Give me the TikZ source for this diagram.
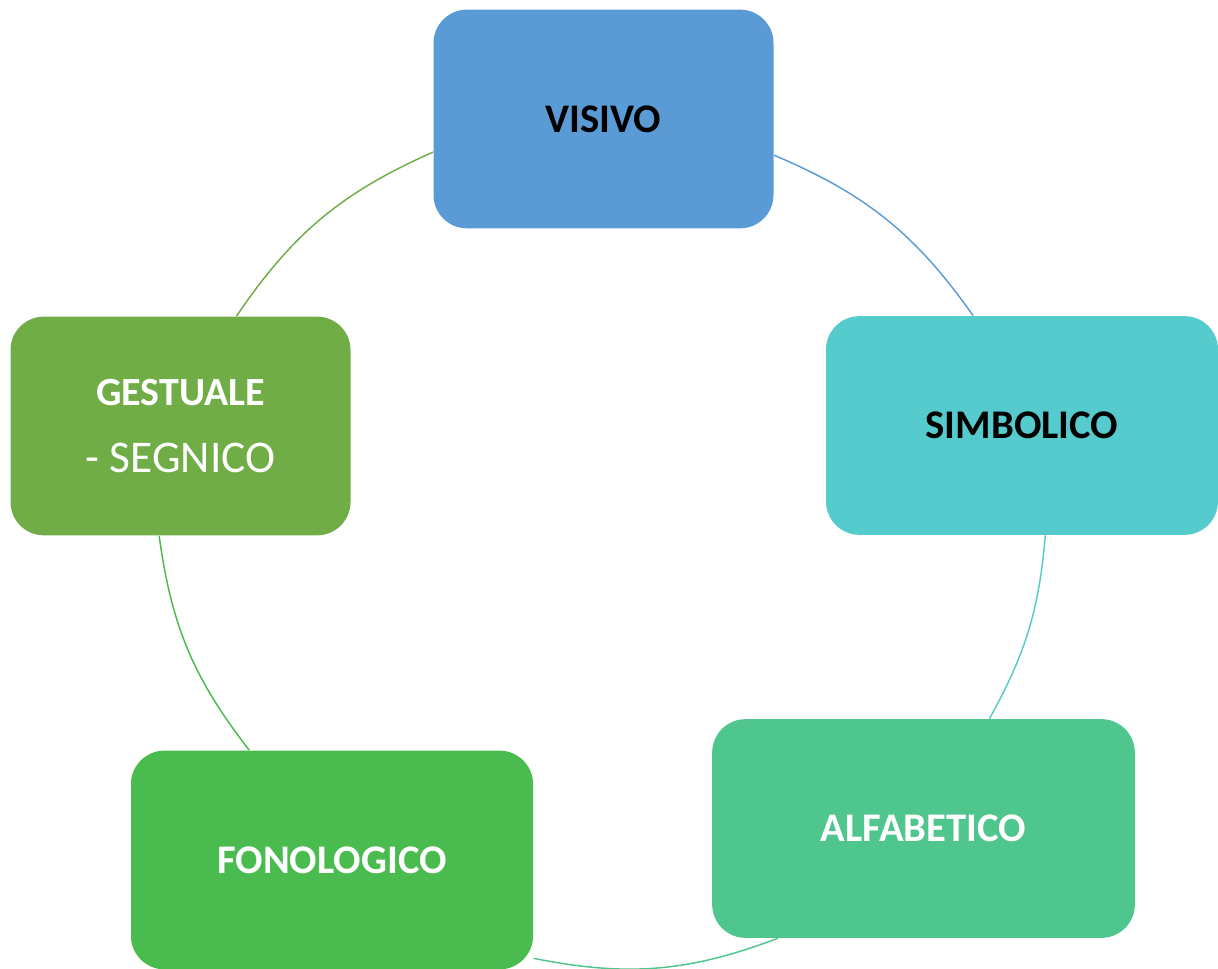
\documentclass[tikz,border=0pt]{standalone}
\usepackage{fontspec}
\setmainfont{Carlito}

\definecolor{visivoBlue}{HTML}{5B9BD5}
\definecolor{simbolicoCyan}{HTML}{55CBCD}
\definecolor{alfabeticoGreen}{HTML}{4FC68D}
\definecolor{fonologicoGreen}{HTML}{4ABB4F}
\definecolor{gestualeGreen}{HTML}{70AD47}

\tikzset{every picture/.style={line width=0.75pt}}
\tikzset{stage/.style={rounded corners=25pt, inner sep=0pt, minimum height=164pt, font=\fontsize{30.5}{50}\selectfont\bfseries}}
\tikzset{link/.style={line width=1.1pt}}

\begin{document}
\begin{tikzpicture}[x=0.75pt,y=0.75pt,yscale=-1,xscale=1]
\useasboundingbox (0,0) rectangle (1218,969);

% Boxes
\node [stage, fill=visivoBlue, minimum width=255pt] (visivo) at (603.5,119) {VISIVO};
% Boxes
\node [stage, fill=simbolicoCyan, minimum width=294pt] (simbolico) at (1022,425.5) {SIMBOLICO};
% Boxes
\node [stage, fill=alfabeticoGreen, text=white, minimum width=317pt] (alfabetico) at (923.5,828.5) {ALFABETICO};
% Boxes
\node [stage, fill=fonologicoGreen, text=white, minimum width=301.5pt] (fonologico) at (332,860) {FONOLOGICO};
% Boxes
\node [stage, fill=gestualeGreen, text=white, minimum width=255pt, align=center, font=\fontsize{34}{50}\selectfont] (gestuale) at (180.5,426) {{\fontsize{30}{50}\selectfont\bfseries GESTUALE}\\- SEGNICO};

% Arcs
\draw [link, gestualeGreen] (visivo.191.4) to [bend left=16] (gestuale.63.8);
% Arcs
\draw [link, fonologicoGreen] (gestuale.259.2) to [bend left=15] (fonologico.127.8);
% Arcs
\draw [link, alfabeticoGreen] (fonologico.334.2) to [bend left=16] (alfabetico.217);
% Arcs
\draw [link, simbolicoCyan] (alfabetico.59.4) to [bend left=12] (simbolico.282.5);
% Arcs
\draw [link, visivoBlue] (simbolico.114.8) to [bend left=16] (visivo.348.6);

\end{tikzpicture}
\end{document}
